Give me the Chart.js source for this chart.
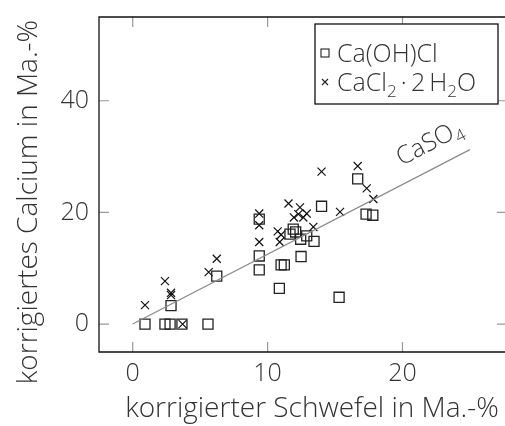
<!DOCTYPE html>
<html><head><meta charset="utf-8">
<script src="https://cdn.jsdelivr.net/npm/chart.js@4"></script>
<style>html,body{margin:0;padding:0;background:#fff}</style>
</head><body>
<canvas id="c" width="505" height="426"></canvas>
<script>
// ---- data ----
const xTicks = [0, 10, 20];
const yTicks = [0, 20, 40];
const xTitle = 'korrigierter Schwefel in Ma.-%';
const yTitle = 'korrigiertes Calcium in Ma.-%';
const seriesNames = ['Ca(OH)Cl', 'CaCl₂·2H₂O'];
const lineLabel = 'CaSO₄';

const sqX = [0.91, 2.39, 2.77, 3.65, 5.58, 2.84, 6.23, 9.38, 9.38, 9.38, 10.87, 11.0, 11.24, 12.48, 13.44, 12.9, 12.45, 11.9, 12.08, 11.66, 14.0, 15.3, 16.68, 17.3, 17.8];
const sqY = [0, 0, 0, 0, 0, 3.3, 8.6, 18.8, 12.2, 9.7, 6.4, 10.6, 10.6, 12.1, 14.8, 15.8, 15.2, 17.0, 16.5, 16.1, 21.1, 4.8, 26.0, 19.7, 19.5];

const crX = [0.91, 2.39, 2.84, 2.84, 3.7, 5.63, 6.23, 9.38, 9.38, 9.38, 10.75, 10.9, 11.0, 11.55, 12.4, 11.95, 12.28, 12.65, 12.9, 13.39, 14.0, 15.37, 16.68, 17.35, 17.84];
const crY = [3.4, 7.7, 5.6, 5.2, 0, 9.3, 11.7, 19.8, 17.7, 14.7, 16.6, 14.7, 16.0, 21.6, 20.9, 19.1, 19.7, 19.1, 19.8, 17.4, 27.3, 20.1, 28.3, 24.3, 22.4];

const lineX = [0, 25];
const lineY = [0, 31.25];

// ---- build ----
const FONT = "'Open Sans', sans-serif";
const TXT = '#333';
const toPts = (xs, ys) => xs.map((x, i) => ({x: x, y: ys[i]}));

function drawRich(ctx, parts, x, y, size) {
  let cx = x;
  for (const [t, sub] of parts) {
    const s = sub ? size * 0.68 : size;
    ctx.font = `300 ${s}px ${FONT}`;
    ctx.fillText(t, cx, y + (sub ? size * 0.24 : 0));
    cx += ctx.measureText(t).width;
  }
  return cx;
}

const decor = {
  id: 'decor',
  beforeDatasetsDraw(chart) {
    const {ctx, chartArea: a, scales: {x, y}} = chart;
    ctx.save();
    ctx.strokeStyle = '#999';
    ctx.lineWidth = 1.2;
    const L = 10;
    ctx.beginPath();
    for (const v of xTicks) {
      const px = x.getPixelForValue(v);
      ctx.moveTo(px, a.bottom); ctx.lineTo(px, a.bottom - L);
      ctx.moveTo(px, a.top); ctx.lineTo(px, a.top + L);
    }
    for (const v of yTicks) {
      const py = y.getPixelForValue(v);
      ctx.moveTo(a.left, py); ctx.lineTo(a.left + L, py);
      ctx.moveTo(a.right + 2, py); ctx.lineTo(a.right - 8, py);
    }
    ctx.stroke();
    ctx.restore();
  },
  afterDraw(chart) {
    const {ctx, chartArea: a, scales: {x, y}} = chart;
    ctx.save();
    // frame (right side lies just beyond the canvas edge)
    ctx.strokeStyle = '#111';
    ctx.lineWidth = 1.3;
    ctx.beginPath();
    ctx.moveTo(a.right + 5, a.top); ctx.lineTo(a.left, a.top);
    ctx.lineTo(a.left, a.bottom); ctx.lineTo(a.right + 5, a.bottom);
    ctx.stroke();

    // axis titles
    ctx.fillStyle = TXT;
    ctx.font = `300 28px ${FONT}`;
    ctx.textAlign = 'center';
    ctx.textBaseline = 'middle';
    ctx.fillText(xTitle, 312, 409);
    ctx.save();
    ctx.translate(29, 202);
    ctx.rotate(-Math.PI / 2);
    ctx.fillText(yTitle, 0, 0);
    ctx.restore();

    // CaSO4 label along the line
    const x0 = x.getPixelForValue(lineX[0]), y0 = y.getPixelForValue(lineY[0]);
    const x1 = x.getPixelForValue(lineX[1]), y1 = y.getPixelForValue(lineY[1]);
    const ang = Math.atan2(y1 - y0, x1 - x0);
    const t = 0.82;
    ctx.save();
    ctx.translate(x0 + (x1 - x0) * t, y0 + (y1 - y0) * t);
    ctx.rotate(ang);
    ctx.textAlign = 'left';
    ctx.textBaseline = 'alphabetic';
    ctx.fillStyle = TXT;
    drawRich(ctx, [['CaSO', false], ['4', true]], 0, -17, 25);
    ctx.restore();

    // legend
    const bx = 315, by = 24, bw = 183, bh = 80;
    ctx.fillStyle = '#fff';
    ctx.fillRect(bx, by, bw, bh);
    ctx.strokeStyle = '#111';
    ctx.lineWidth = 1.3;
    ctx.strokeRect(bx, by, bw, bh);
    ctx.strokeStyle = '#222';
    ctx.lineWidth = 1.1;
    ctx.strokeRect(321, 49, 8, 8);
    ctx.beginPath();
    ctx.moveTo(322, 79); ctx.lineTo(328, 85);
    ctx.moveTo(328, 79); ctx.lineTo(322, 85);
    ctx.stroke();
    ctx.fillStyle = TXT;
    ctx.textAlign = 'left';
    ctx.textBaseline = 'alphabetic';
    drawRich(ctx, [[seriesNames[0], false]], 337, 62, 25);
    drawRich(ctx, [['CaCl', false], ['2', true], ['\u2009·\u20092\u2009H', false], ['2', true], ['O', false]], 337, 91, 25);
    ctx.restore();
  }
};

function build() {
  new Chart(document.getElementById('c'), {
    type: 'scatter',
    data: {
      datasets: [
        {
          type: 'line', label: lineLabel, data: toPts(lineX, lineY),
          borderColor: '#8a8a8a', borderWidth: 1.2, pointRadius: 0, fill: false
        },
        {
          label: seriesNames[0], data: toPts(sqX, sqY),
          pointStyle: 'rect', pointRadius: 7.1, borderColor: '#222',
          backgroundColor: 'rgba(0,0,0,0)', borderWidth: 1.3
        },
        {
          label: seriesNames[1], data: toPts(crX, crY),
          pointStyle: 'crossRot', pointRadius: 5.7, borderColor: '#111',
          backgroundColor: 'rgba(0,0,0,0)', borderWidth: 1.2
        }
      ]
    },
    options: {
      responsive: false,
      animation: false,
      events: [],
      layout: {autoPadding: false, padding: {top: 17, right: 0, left: 0, bottom: 0}},
      plugins: {legend: {display: false}, tooltip: {enabled: false}},
      scales: {
        x: {
          type: 'linear', min: -2.5, max: 27.6,
          afterBuildTicks: s => { s.ticks = xTicks.map(v => ({value: v})); },
          afterFit: s => { s.height = 74; s.paddingLeft = 0; s.paddingRight = 0; },
          grid: {display: false, drawTicks: false},
          border: {display: false},
          ticks: {padding: 7, color: TXT, font: {family: FONT, size: 25, weight: 300}}
        },
        y: {
          type: 'linear', min: -5, max: 55,
          afterBuildTicks: s => { s.ticks = yTicks.map(v => ({value: v})); },
          afterFit: s => { s.width = 99; s.paddingTop = 0; s.paddingBottom = 0; },
          grid: {display: false, drawTicks: false},
          border: {display: false},
          ticks: {padding: 10, color: TXT, font: {family: FONT, size: 25, weight: 300}}
        }
      }
    },
    plugins: [decor]
  });
}

Promise.race([
  document.fonts.load("300 25px 'Open Sans'").catch(() => null),
  new Promise(r => setTimeout(r, 800))
]).then(build);
</script>
</body></html>
